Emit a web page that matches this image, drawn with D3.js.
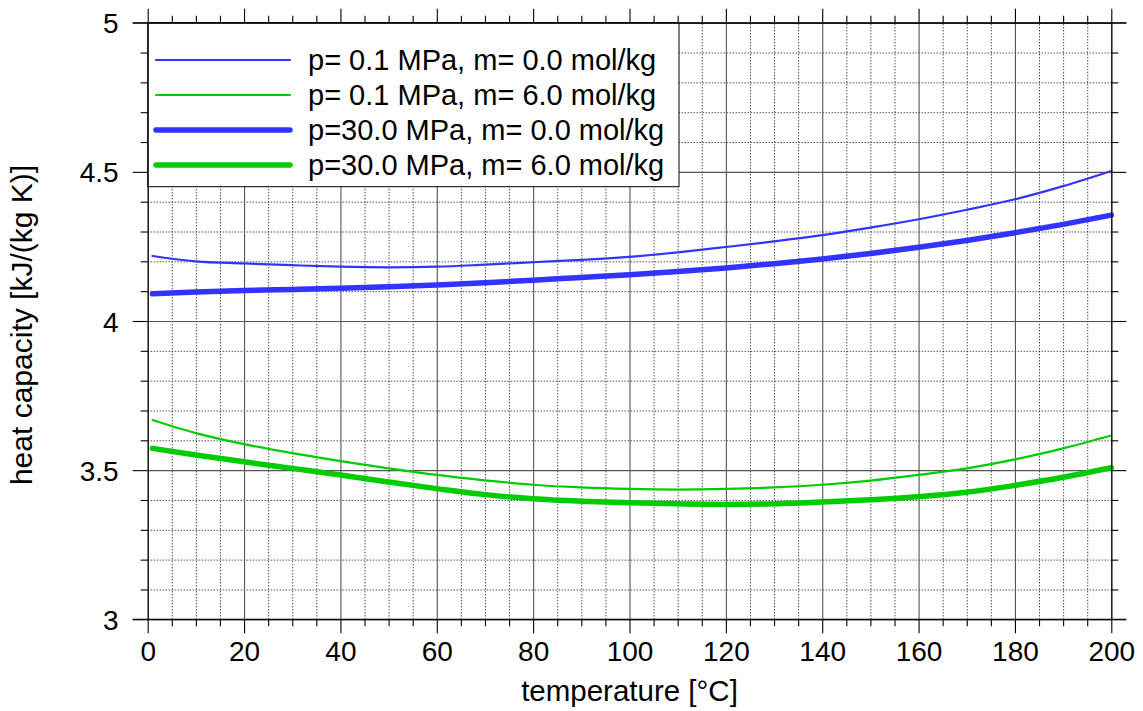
<!DOCTYPE html>
<html>
<head>
<meta charset="utf-8">
<script src="https://cdn.jsdelivr.net/npm/d3@7/dist/d3.min.js"></script>
<style>
  html, body { margin: 0; padding: 0; background: #fff; }
  svg { display: block; font-family: "Liberation Sans", Arial, sans-serif; }
</style>
</head>
<body>
<svg id="chart" width="1143" height="711"></svg>
<script>
// ---- data ----
const temperature = [1, 10, 20, 30, 40, 50, 60, 70, 80, 90, 100, 110, 120, 130, 140, 150, 160, 170, 180, 190, 200];
const cp_p01_m0 = [4.218, 4.200, 4.193, 4.187, 4.182, 4.180, 4.182, 4.189, 4.197, 4.205, 4.215, 4.230, 4.248, 4.267, 4.288, 4.313, 4.341, 4.373, 4.408, 4.452, 4.503];
const cp_p01_m6 = [3.668, 3.624, 3.587, 3.557, 3.530, 3.506, 3.484, 3.466, 3.451, 3.442, 3.437, 3.435, 3.437, 3.442, 3.451, 3.465, 3.484, 3.506, 3.536, 3.573, 3.616];
const cp_p30_m0 = [4.091, 4.097, 4.102, 4.106, 4.110, 4.115, 4.121, 4.128, 4.137, 4.146, 4.155, 4.166, 4.178, 4.192, 4.208, 4.226, 4.247, 4.270, 4.296, 4.324, 4.355];
const cp_p30_m6 = [3.573, 3.551, 3.528, 3.506, 3.484, 3.460, 3.438, 3.418, 3.404, 3.396, 3.391, 3.387, 3.385, 3.387, 3.393, 3.401, 3.411, 3.426, 3.449, 3.476, 3.508];
const seriesLabels = ["p= 0.1 MPa, m= 0.0 mol/kg", "p= 0.1 MPa, m= 6.0 mol/kg", "p=30.0 MPa, m= 0.0 mol/kg", "p=30.0 MPa, m= 6.0 mol/kg"];
const xTicks = [0, 20, 40, 60, 80, 100, 120, 140, 160, 180, 200];
const xMinorTicks = [5,10,15,25,30,35,45,50,55,65,70,75,85,90,95,105,110,115,125,130,135,145,150,155,165,170,175,185,190,195];
const yTicks = [3, 3.5, 4, 4.5, 5];
const yMinorTicks = [3.1,3.2,3.3,3.4,3.6,3.7,3.8,3.9,4.1,4.2,4.3,4.4,4.6,4.7,4.8,4.9];
const xTitle = "temperature [°C]";
const yTitle = "heat capacity [kJ/(kg K)]";

// ---- layout ----
const L = 147.7, R = 1111.3, T = 22.7, B = 619.3;
const W = R - L, H = B - T;
const svg = d3.select("#chart");
const x = d3.scaleLinear().domain([0, 200]).range([L, R]);
const y = d3.scaleLinear().domain([3, 5]).range([B, T]);

const series = [
  { values: cp_p01_m0, color: "#3333ff", width: 2.2 },
  { values: cp_p01_m6, color: "#00cc00", width: 2.2 },
  { values: cp_p30_m0, color: "#3333ff", width: 5.5 },
  { values: cp_p30_m6, color: "#00cc00", width: 5.5 }
];
series.forEach((s, i) => s.label = seriesLabels[i]);

// ---- minor grid (dotted) ----
const gMinor = svg.append("g");
gMinor.append("g").attr("transform", `translate(0,${B})`)
  .call(d3.axisBottom(x).tickValues(xMinorTicks).tickSize(-H).tickFormat(""))
  .call(g => g.select(".domain").remove())
  .call(g => g.selectAll("line").attr("stroke", "#000").attr("stroke-dasharray", "1,2"));
gMinor.append("g").attr("transform", `translate(${L},0)`)
  .call(d3.axisLeft(y).tickValues(yMinorTicks).tickSize(-W).tickFormat(""))
  .call(g => g.select(".domain").remove())
  .call(g => g.selectAll("line").attr("stroke", "#000").attr("stroke-dasharray", "1,2"));

// ---- major grid (solid) ----
const gMajor = svg.append("g");
gMajor.append("g").attr("transform", `translate(0,${B})`)
  .call(d3.axisBottom(x).tickValues(xTicks).tickSize(-H).tickFormat(""))
  .call(g => g.select(".domain").remove())
  .call(g => g.selectAll("line").attr("stroke", "#555").attr("stroke-width", 1.1));
gMajor.append("g").attr("transform", `translate(${L},0)`)
  .call(d3.axisLeft(y).tickValues(yTicks).tickSize(-W).tickFormat(""))
  .call(g => g.select(".domain").remove())
  .call(g => g.selectAll("line").attr("stroke", "#555").attr("stroke-width", 1.1));

// ---- curves ----
const line = d3.line()
  .x((d, i) => x(temperature[i]))
  .y(d => y(d))
  .curve(d3.curveMonotoneX);
svg.append("g").selectAll("path").data(series).join("path")
  .attr("d", d => line(d.values))
  .attr("fill", "none")
  .attr("stroke", d => d.color)
  .attr("stroke-width", d => d.width)
  .attr("stroke-linecap", "round")
  .attr("stroke-linejoin", "round");

// ---- legend ----
const lg = svg.append("g");
lg.append("rect").attr("x", L).attr("y", T).attr("width", 679 - L).attr("height", 186.7 - T)
  .attr("fill", "#fff").attr("stroke", "#000").attr("stroke-width", 1);
const rows = lg.selectAll("g.row").data(series).join("g").attr("class", "row")
  .attr("transform", (d, i) => `translate(0,${60 + i * 35})`);
rows.append("line").attr("x1", 156).attr("x2", 290).attr("y1", 0).attr("y2", 0)
  .attr("stroke", d => d.color).attr("stroke-width", d => d.width).attr("stroke-linecap", "round");
rows.append("text").attr("x", 308).attr("y", 10).attr("font-size", 29).attr("fill", "#000")
  .text(d => d.label);

// ---- axes / frame ----
const fmt = d => String(d);
const styleAxis = g => {
  g.selectAll("line").attr("stroke", "#000").attr("stroke-width", 1.1);
  g.select(".domain").attr("stroke", "#000").attr("stroke-width", 1.1);
};
// bottom
svg.append("g").attr("transform", `translate(0,${B})`)
  .call(d3.axisBottom(x).tickValues(xTicks).tickSize(14).tickPadding(8).tickFormat(fmt).tickSizeOuter(0))
  .call(styleAxis)
  .call(g => g.selectAll("text").attr("font-size", 28).attr("fill", "#000").attr("font-family", "Liberation Sans, Arial, sans-serif"));
svg.append("g").attr("transform", `translate(0,${B})`)
  .call(d3.axisBottom(x).tickValues(xMinorTicks).tickSize(7).tickFormat("").tickSizeOuter(0))
  .call(styleAxis).call(g => g.select(".domain").remove());
// top
svg.append("g").attr("transform", `translate(0,${T})`)
  .call(d3.axisTop(x).tickValues(xTicks).tickSize(14).tickFormat("").tickSizeOuter(0))
  .call(styleAxis);
svg.append("g").attr("transform", `translate(0,${T})`)
  .call(d3.axisTop(x).tickValues(xMinorTicks).tickSize(7).tickFormat("").tickSizeOuter(0))
  .call(styleAxis).call(g => g.select(".domain").remove());
// left
svg.append("g").attr("transform", `translate(${L},0)`)
  .call(d3.axisLeft(y).tickValues(yTicks).tickSize(15).tickPadding(14).tickFormat(fmt).tickSizeOuter(0))
  .call(styleAxis)
  .call(g => g.selectAll("text").attr("font-size", 28).attr("fill", "#000").attr("dy", "0.36em").attr("font-family", "Liberation Sans, Arial, sans-serif"));
svg.append("g").attr("transform", `translate(${L},0)`)
  .call(d3.axisLeft(y).tickValues(yMinorTicks).tickSize(7).tickFormat("").tickSizeOuter(0))
  .call(styleAxis).call(g => g.select(".domain").remove());
// right
svg.append("g").attr("transform", `translate(${R},0)`)
  .call(d3.axisRight(y).tickValues(yTicks).tickSize(15).tickFormat("").tickSizeOuter(0))
  .call(styleAxis);
svg.append("g").attr("transform", `translate(${R},0)`)
  .call(d3.axisRight(y).tickValues(yMinorTicks).tickSize(7).tickFormat("").tickSizeOuter(0))
  .call(styleAxis).call(g => g.select(".domain").remove());
// extend horizontal frame lines to the right tick length
svg.append("g").selectAll("line").data([T, B]).join("line")
  .attr("x1", L - 15).attr("x2", R + 15).attr("y1", d => d).attr("y2", d => d)
  .attr("stroke", "#000").attr("stroke-width", 1.1);

// ---- titles ----
svg.append("text").attr("x", (L + R) / 2).attr("y", 701).attr("text-anchor", "middle")
  .attr("font-size", 29.5).attr("fill", "#000").text(xTitle);
svg.append("text").attr("transform", `translate(32,${(T + B) / 2 + 4}) rotate(-90)`)
  .attr("text-anchor", "middle").attr("font-size", 30).attr("fill", "#000").text(yTitle);
</script>
</body>
</html>
